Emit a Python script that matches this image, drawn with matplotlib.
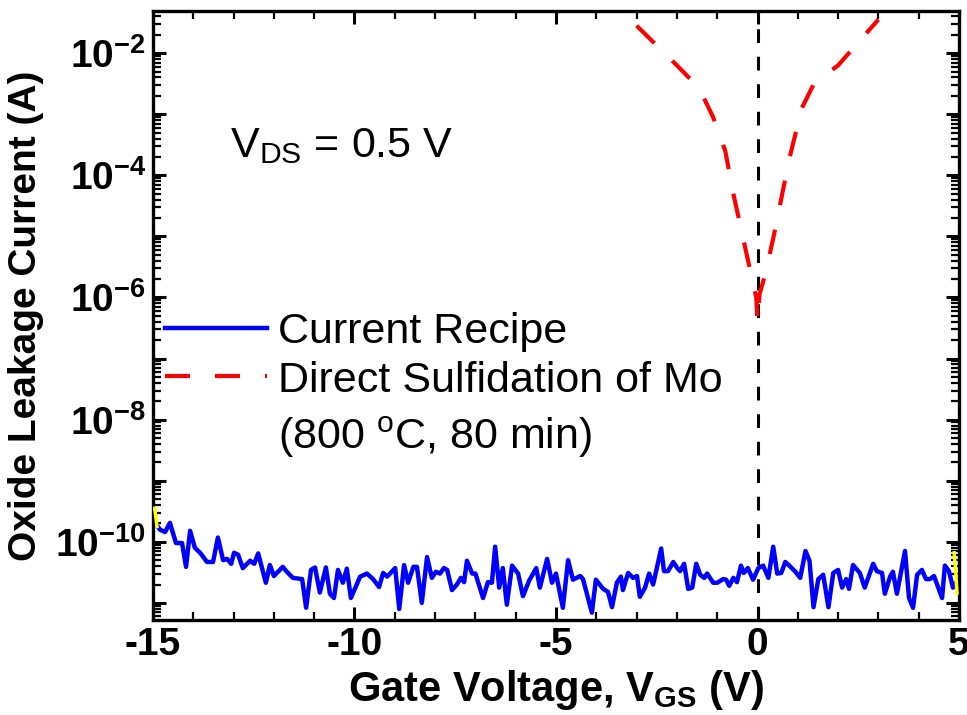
import numpy as np
import matplotlib
matplotlib.use('Agg')
import matplotlib.pyplot as plt
from matplotlib.ticker import LogLocator, FuncFormatter, MultipleLocator

plt.rcParams['font.family'] = ['Liberation Sans', 'DejaVu Sans']
plt.rcParams['mathtext.fontset'] = 'custom'
plt.rcParams['mathtext.rm'] = 'Liberation Sans'
plt.rcParams['mathtext.bf'] = 'Liberation Sans:bold'
plt.rcParams['axes.unicode_minus'] = False

# current recipe (blue) as log10(I)
blue_v = [-15.0, -14.93, -14.83, -14.70, -14.58, -14.43, -14.28, -14.18, -14.08, -13.96,
          -13.83, -13.66, -13.51, -13.39, -13.26, -13.16, -13.06, -12.99, -12.89, -12.77,
          -12.59, -12.49, -12.39, -12.20, -12.10, -12.00, -11.78, -11.68, -11.53, -11.30,
          -11.20, -11.08, -10.98, -10.86, -10.71, -10.61, -10.51, -10.41, -10.29, -10.19,
          -10.09, -9.86, -9.69, -9.54, -9.39, -9.29, -9.19, -8.99, -8.89, -8.77,
          -8.67, -8.54, -8.45, -8.33, -8.20, -8.08, -7.98, -7.88, -7.78, -7.70,
          -7.58, -7.46, -7.36, -7.28, -7.21, -7.08, -7.00, -6.89, -6.81, -6.69,
          -6.59, -6.51, -6.41, -6.32, -6.22, -6.09, -5.94, -5.82, -5.67, -5.49,
          -5.40, -5.22, -5.10, -5.00, -4.83, -4.70, -4.58, -4.40, -4.33, -4.11,
          -4.01, -3.83, -3.71, -3.61, -3.49, -3.39, -3.34, -3.21, -3.09, -2.99,
          -2.92, -2.79, -2.69, -2.59, -2.39, -2.32, -2.22, -2.09, -1.99, -1.92,
          -1.82, -1.72, -1.62, -1.52, -1.42, -1.32, -1.25, -1.10, -1.00, -0.85,
          -0.78, -0.70, -0.60, -0.51, -0.41, -0.34, -0.24, -0.11, 0.02, 0.14,
          0.27, 0.39, 0.49, 0.59, 0.69, 0.82, 0.94, 1.06, 1.19, 1.29,
          1.39, 1.51, 1.63, 1.76, 1.88, 2.00, 2.10, 2.20, 2.27, 2.37,
          2.54, 2.66, 2.87, 2.96, 3.09, 3.16, 3.29, 3.36, 3.46, 3.66,
          3.76, 3.86, 3.96, 4.08, 4.18, 4.28, 4.38, 4.58, 4.65, 4.75,
          4.85, 5.0]
blue_log = [-9.68, -9.70, -9.80, -9.84, -9.69, -10.02, -10.02, -10.41, -9.82, -10.10,
            -10.18, -10.33, -10.33, -9.93, -10.30, -10.28, -10.36, -10.18, -10.21, -10.43,
            -10.31, -10.36, -10.19, -10.67, -10.38, -10.56, -10.41, -10.49, -10.59, -10.61,
            -11.08, -10.46, -10.42, -10.83, -10.42, -10.85, -10.92, -10.46, -10.67, -10.44,
            -10.92, -10.57, -10.52, -10.61, -10.74, -10.51, -10.57, -10.43, -11.10, -10.38,
            -10.67, -10.41, -10.41, -11.00, -10.25, -10.59, -10.49, -10.52, -10.43, -10.46,
            -10.79, -10.70, -10.59, -10.66, -10.31, -10.52, -10.52, -10.75, -10.92, -10.66,
            -10.67, -10.08, -10.75, -10.43, -11.03, -10.39, -10.52, -10.89, -10.64, -10.43,
            -10.75, -10.28, -10.67, -10.52, -11.08, -10.30, -10.62, -10.56, -10.61, -11.16,
            -10.62, -10.77, -10.82, -11.07, -10.67, -10.57, -10.79, -10.51, -10.59, -10.56,
            -10.90, -10.75, -10.52, -10.70, -10.11, -10.48, -10.48, -10.33, -10.43, -10.48,
            -10.36, -10.77, -10.75, -10.36, -10.54, -10.59, -10.52, -10.67, -10.67, -10.61,
            -10.62, -10.72, -10.59, -10.66, -10.39, -10.51, -10.43, -10.62, -10.43, -10.39,
            -10.59, -10.08, -10.52, -10.51, -10.33, -10.41, -10.49, -10.59, -10.15, -10.31,
            -11.07, -10.61, -10.54, -11.07, -10.51, -10.46, -10.75, -10.61, -10.77, -10.38,
            -10.51, -10.75, -10.36, -10.48, -10.51, -10.85, -10.57, -10.49, -10.85, -10.15,
            -10.92, -11.08, -10.54, -10.46, -10.61, -10.61, -10.56, -10.92, -10.39, -10.48,
            -10.75, -10.60]

# direct sulfidation of Mo (red dashed)
red_v = [-3.0, -2.0, -1.45, -1.1, -0.8, -0.6, -0.4, -0.2, -0.03, 0.0,
         0.05, 0.2, 0.4, 0.6, 0.8, 1.1, 1.4, 2.0, 3.0]
red_log = [-1.55, -2.2, -2.57, -3.05, -3.6, -4.3, -4.9, -5.5, -6.0, -6.4,
           -5.95, -5.6, -5.0, -4.35, -3.7, -2.9, -2.5, -2.2, -1.45]

# small yellow remnants at the edges
yel_left_v = [-14.96, -14.93, -14.90]
yel_left_log = [-9.45, -9.6, -9.75]
yel_right_v = [4.88, 4.92, 4.95]
yel_right_log = [-10.18, -10.5, -10.84]

fs = 28
fs_txt = 31

fig = plt.figure(figsize=(9.67, 7.15), dpi=100)
ax = fig.add_axes([153/967, 95/715, 806/967, 609/715])

ax.axvline(0, color='black', lw=2.2, dashes=(4.5, 4.5))
ax.plot(blue_v, 10**np.array(blue_log), color='blue', lw=3.2, label='Current Recipe')
ax.plot(red_v, 10**np.array(red_log), color='red', lw=3, dashes=(6, 6),
        label='Direct Sulfidation of Mo')
ax.plot(yel_left_v, 10**np.array(yel_left_log), color='yellow', lw=2.5, zorder=3)
ax.plot(yel_right_v, 10**np.array(yel_right_log), color='yellow', lw=2.5, zorder=3)

ax.set_yscale('log')
ax.set_xlim(-15, 5)
ax.set_ylim(10**-11.28, 10**-1.31)

ax.xaxis.set_major_locator(MultipleLocator(5))
ax.xaxis.set_minor_locator(MultipleLocator(1))
ax.yaxis.set_major_locator(LogLocator(base=10, numticks=20))
ax.yaxis.set_minor_locator(LogLocator(base=10, subs=np.arange(2, 10), numticks=20))

def ylab(v, pos):
    e = int(round(np.log10(v)))
    if e % 2:
        return ''
    return r'$\mathbf{10^{%d}}$' % e

ax.yaxis.set_major_formatter(FuncFormatter(ylab))
ax.xaxis.set_major_formatter(FuncFormatter(lambda v, p: '%d' % v))

for s in ax.spines.values():
    s.set_linewidth(2.4)
ax.tick_params(which='both', direction='in', top=True, right=True)
ax.tick_params(which='major', length=9.5, width=2.2, labelsize=fs, pad=5)
ax.tick_params(which='minor', length=6, width=1.6)
for lab in ax.get_xticklabels():
    lab.set_fontweight('bold')

ax.set_xlabel(r'Gate Voltage, V$_{\mathbf{GS}}$ (V)', fontsize=30, fontweight='bold', labelpad=4)
ax.set_ylabel('Oxide Leakage Current (A)', fontsize=fs, fontweight='bold', labelpad=8)

ax.text(0.0955, 0.760, r'V$_{\mathregular{DS}}$ = 0.5 V', transform=ax.transAxes,
        fontsize=fs_txt, va='baseline')

ax.legend(loc='upper left', bbox_to_anchor=(0.004, 0.52), frameon=False, fontsize=fs_txt,
          handlelength=2.37, handletextpad=0.26, labelspacing=0.2, borderaxespad=0,
          borderpad=0.2)
ax.text(0.155, 0.30, r'(800 $^{\mathregular{o}}$C, 80 min)', transform=ax.transAxes,
        fontsize=fs_txt, va='center')

fig.savefig('out.png', dpi=100)
